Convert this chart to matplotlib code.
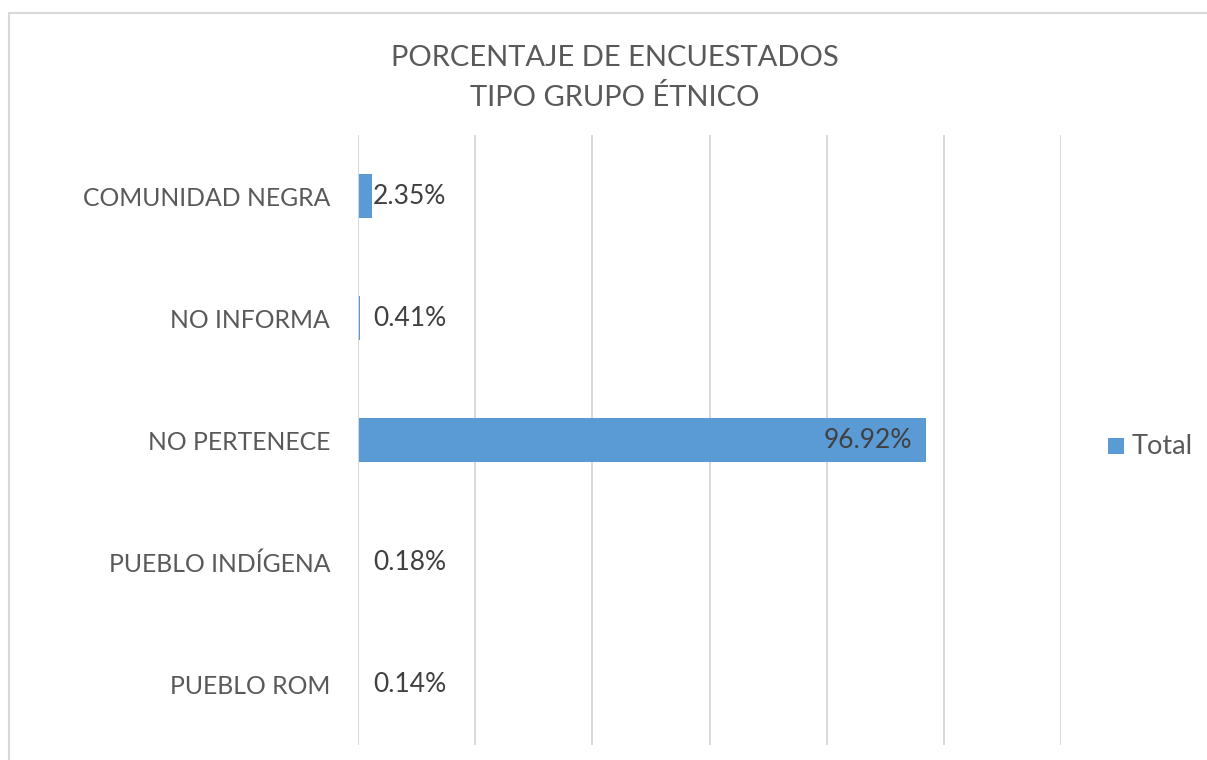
import matplotlib
matplotlib.use("Agg")
import matplotlib.pyplot as plt
from matplotlib.patches import Rectangle

categories = ["COMUNIDAD NEGRA", "NO INFORMA", "NO PERTENECE", "PUEBLO INDÍGENA", "PUEBLO ROM"]
values = [2.35, 0.41, 96.92, 0.18, 0.14]
labels = ["2.35%", "0.41%", "96.92%", "0.18%", "0.14%"]
title = "PORCENTAJE DE ENCUESTADOS\nTIPO GRUPO ÉTNICO"
series_name = "Total"

plt.rcParams['font.family'] = ['Lato', 'DejaVu Sans']

W, H = 1207, 760
fig = plt.figure(figsize=(W / 100, H / 100), dpi=100)
fig.patch.set_facecolor("white")

# chart frame
fig.patches.append(Rectangle((9 / W, -0.05), 1.2, 1 - 13 / H + 0.05, transform=fig.transFigure,
                             fill=False, edgecolor="#d9d9d9", linewidth=1.5))

ax = fig.add_axes([358 / W, 1 - 745 / H, 703 / W, 610 / H])
bar_color = "#5B9BD5"
ypos = list(range(len(categories)))
ax.barh(ypos, values, height=0.36, color=bar_color, zorder=3, linewidth=0)
ax.set_xlim(0, 120)
ax.set_ylim(len(categories) - 0.5, -0.5)
ax.set_xticks([0, 20, 40, 60, 80, 100, 120])
ax.set_xticklabels([])
ax.tick_params(axis="x", length=0)
ax.tick_params(axis="y", length=0, pad=20, labelsize=17.8, labelcolor="#595959")
ax.set_yticks(ypos)
ax.set_yticklabels(categories)
ax.grid(axis="x", color="#d9d9d9", linewidth=1.4, zorder=0)
ax.axvline(0, color="#d9d9d9", linewidth=1.4, zorder=3.5)
for s in ax.spines.values():
    s.set_visible(False)

for i, (v, lab) in enumerate(zip(values, labels)):
    if v > 50:
        ax.annotate(lab, xy=(v, i), xytext=(-14, 0), textcoords="offset pixels",
                    ha="right", va="center", fontsize=19, color="#404040", zorder=4)
    else:
        ax.annotate(lab, xy=(0, i), xytext=(15, 0), textcoords="offset pixels",
                    ha="left", va="center", fontsize=19, color="#404040", zorder=4)

fig.text(615 / W, 1 - 78 / H, title, ha="center", va="center", fontsize=21,
         color="#595959", linespacing=1.62)

# legend
fig.patches.append(Rectangle((1108 / W, 1 - 454 / H), 16 / W, 16 / H, transform=fig.transFigure,
                             facecolor=bar_color, edgecolor="none"))
fig.text(1132 / W, 1 - 446 / H, series_name, ha="left", va="center", fontsize=19.5, color="#595959")

fig.savefig("out.png", dpi=100)
